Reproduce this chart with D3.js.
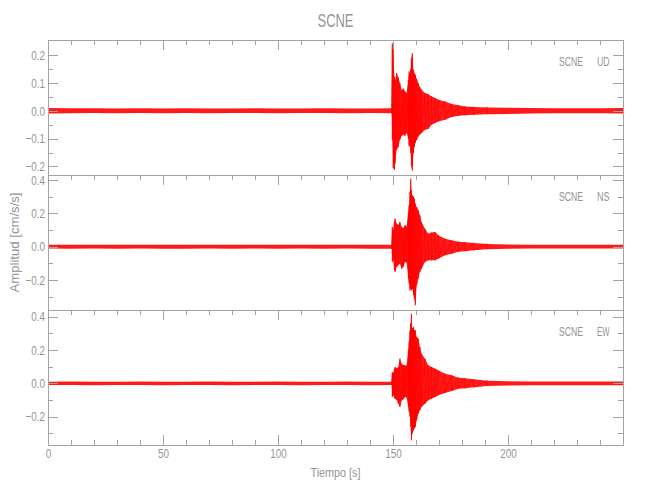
<!DOCTYPE html>
<html>
<head>
<meta charset="utf-8">
<script src="https://cdn.jsdelivr.net/npm/d3@7"></script>
<style>
  html, body { margin: 0; padding: 0; background: #fff; }
  svg { display: block; }
  text { font-family: "Liberation Sans", Arial, sans-serif; fill: #939393; }
</style>
</head>
<body>
<svg id="chart" width="650" height="500"></svg>
<script>
// ---------------- data ----------------
const title = "SCNE";
const xLabel = "Tiempo [s]";
const yLabel = "Amplitud [cm/s/s]";
const station = "SCNE";
const components = ["UD", "NS", "EW"];

const tiempo = [0,10,20,30,40,50,60,70,80,90,100,110,120,130,140,
  149.4,149.7,150.1,150.6,150.9,151.6,152.3,153.0,153.8,154.5,
  155.2,155.9,156.7,157.0,157.4,157.7,158.0,158.4,158.9,159.3,
  159.7,160.3,161.0,161.7,162.4,163.9,165.3,166.8,168.3,169.7,
  172.6,175.5,178.4,181.3,185,191,200,210,220,230,240,250];

const udUp = [0.010,0.009,0.009,0.008,0.009,0.008,0.009,0.008,0.008,0.009,0.008,0.008,0.009,0.008,0.008,
  0.009,0.243,0.220,0.123,0.110,0.136,0.120,0.100,0.075,0.080,
  0.070,0.064,0.110,0.142,0.130,0.150,0.190,0.207,0.147,0.135,
  0.130,0.115,0.100,0.085,0.076,0.064,0.060,0.052,0.046,0.040,
  0.034,0.025,0.020,0.016,0.014,0.012,0.011,0.010,0.009,0.009,0.009,0.010];
const udDown = [-0.010,-0.009,-0.008,-0.009,-0.008,-0.009,-0.008,-0.009,-0.008,-0.008,-0.009,-0.008,-0.008,-0.009,-0.008,
  -0.009,-0.104,-0.206,-0.212,-0.190,-0.140,-0.130,-0.104,-0.090,-0.085,
  -0.090,-0.080,-0.100,-0.128,-0.120,-0.150,-0.200,-0.215,-0.152,-0.130,
  -0.116,-0.105,-0.092,-0.085,-0.080,-0.068,-0.065,-0.050,-0.044,-0.038,
  -0.032,-0.022,-0.018,-0.016,-0.014,-0.012,-0.011,-0.010,-0.009,-0.009,-0.009,-0.010];

const nsUp = [0.012,0.011,0.012,0.011,0.012,0.012,0.011,0.012,0.011,0.012,0.011,0.012,0.011,0.012,0.011,
  0.012,0.118,0.100,0.150,0.168,0.138,0.130,0.148,0.118,0.110,
  0.128,0.120,0.208,0.250,0.330,0.408,0.340,0.308,0.300,0.288,
  0.258,0.238,0.218,0.188,0.148,0.108,0.078,0.085,0.088,0.068,
  0.048,0.038,0.030,0.027,0.022,0.016,0.013,0.011,0.011,0.011,0.011,0.011];
const nsDown = [-0.011,-0.012,-0.011,-0.012,-0.011,-0.012,-0.012,-0.011,-0.012,-0.011,-0.012,-0.011,-0.012,-0.011,-0.012,
  -0.012,-0.092,-0.080,-0.140,-0.152,-0.122,-0.110,-0.102,-0.132,-0.120,
  -0.092,-0.095,-0.192,-0.220,-0.262,-0.250,-0.262,-0.252,-0.290,-0.312,
  -0.352,-0.232,-0.192,-0.152,-0.132,-0.092,-0.082,-0.082,-0.082,-0.072,
  -0.052,-0.042,-0.030,-0.027,-0.022,-0.016,-0.013,-0.011,-0.011,-0.011,-0.011,-0.011];

const ewUp = [0.010,0.011,0.010,0.010,0.011,0.010,0.010,0.011,0.010,0.010,0.011,0.010,0.010,0.011,0.010,
  0.010,0.068,0.060,0.085,0.098,0.090,0.098,0.148,0.118,0.110,
  0.108,0.105,0.198,0.250,0.318,0.360,0.418,0.330,0.338,0.320,
  0.318,0.278,0.268,0.218,0.178,0.148,0.108,0.098,0.088,0.078,
  0.058,0.048,0.034,0.030,0.024,0.016,0.013,0.011,0.011,0.011,0.011,0.011];
const ewDown = [-0.010,-0.010,-0.011,-0.010,-0.010,-0.011,-0.010,-0.010,-0.011,-0.010,-0.010,-0.011,-0.010,-0.010,-0.011,
  -0.010,-0.082,-0.070,-0.085,-0.092,-0.100,-0.122,-0.142,-0.102,-0.095,
  -0.082,-0.085,-0.142,-0.170,-0.202,-0.260,-0.342,-0.300,-0.282,-0.270,
  -0.262,-0.222,-0.182,-0.162,-0.142,-0.122,-0.102,-0.092,-0.082,-0.072,
  -0.058,-0.046,-0.032,-0.030,-0.024,-0.016,-0.013,-0.011,-0.011,-0.011,-0.011,-0.011];

const xDomain = [0, 250];
const xMajorLabels = [0, 50, 100, 150, 200];
const xMajor = [0, 50, 100, 150, 200, 250];
const xMinor = [10,20,30,40,60,70,80,90,110,120,130,140,160,170,180,190,210,220,230,240];

const yDomains = [[-0.231, 0.255], [-0.38, 0.43], [-0.37, 0.44]];
const yMajors = [[-0.2,-0.1,0,0.1,0.2], [-0.2,0,0.2,0.4], [-0.2,0,0.2,0.4]];
const yMinors = [[-0.15,-0.05,0.05,0.15], [-0.3,-0.1,0.1,0.3], [-0.3,-0.1,0.1,0.3]];
const seriesUp = [udUp, nsUp, ewUp];
const seriesDown = [udDown, nsDown, ewDown];
const eventWindow = [149, 191];

// ---------------- drawing ----------------
const svg = d3.select("#chart");
const L = 48, R = 623, panelTops = [40, 175, 310], PH = 135;
const axisColor = "#a3a3a3";
const textColor = "#939393";
const fontSize = "13px";
const x = d3.scaleLinear().domain(xDomain).range([L, R]);

function condense(sel, k) {
  sel.each(function () {
    const w = this.getComputedTextLength();
    d3.select(this).attr("textLength", w * k).attr("lengthAdjust", "spacingAndGlyphs");
  });
}
function fit(sel, w) {
  sel.attr("textLength", w).attr("lengthAdjust", "spacingAndGlyphs");
}
function styleAxis(g) {
  g.select(".domain").remove();
  g.selectAll("line").attr("stroke", axisColor).attr("shape-rendering", "crispEdges");
  g.selectAll("text").attr("fill", textColor).style("font-size", fontSize)
    .style("font-family", '"Liberation Sans", Arial, sans-serif');
}

const defs = svg.append("defs");

panelTops.forEach((top, i) => {
  const y = d3.scaleLinear().domain(yDomains[i]).range([top + PH, top]);
  const g = svg.append("g");

  defs.append("clipPath").attr("id", "clip" + i)
    .append("rect").attr("x", L).attr("y", top).attr("width", R - L).attr("height", PH);

  // waveform envelope
  const rows = tiempo.map((t, j) => ({ t, up: seriesUp[i][j], dn: seriesDown[i][j] }));
  const area = d3.area().x(d => x(d.t)).y0(d => y(d.dn)).y1(d => y(d.up));
  const wave = g.append("g").attr("clip-path", `url(#clip${i})`);
  wave.append("path").datum(rows).attr("d", area)
    .attr("fill", "#ff0000").attr("fill-opacity", 0.9);
  const zig = rows.filter(d => d.t >= eventWindow[0] && d.t <= eventWindow[1])
    .flatMap(d => [[x(d.t), y(d.up)], [x(d.t), y(d.dn)]]);
  wave.append("path").attr("d", d3.line()(zig))
    .attr("fill", "none").attr("stroke", "#ff0000").attr("stroke-width", 0.7);

  // left axis
  const la = g.append("g").attr("transform", `translate(${L},0)`)
    .call(d3.axisLeft(y).tickValues(yMajors[i]).tickSize(-10).tickSizeOuter(0).tickPadding(3)
      .tickFormat(d3.format(".1f")));
  styleAxis(la);
  condense(la.selectAll("text"), 0.76);
  const lm = g.append("g").attr("transform", `translate(${L},0)`)
    .call(d3.axisLeft(y).tickValues(yMinors[i]).tickSize(-5).tickSizeOuter(0).tickFormat(""));
  styleAxis(lm);
  // right axis
  const ra = g.append("g").attr("transform", `translate(${R},0)`)
    .call(d3.axisRight(y).tickValues(yMajors[i]).tickSize(-10).tickSizeOuter(0).tickFormat(""));
  styleAxis(ra);
  const rm = g.append("g").attr("transform", `translate(${R},0)`)
    .call(d3.axisRight(y).tickValues(yMinors[i]).tickSize(-5).tickSizeOuter(0).tickFormat(""));
  styleAxis(rm);
  // top ticks
  const ta = g.append("g").attr("transform", `translate(0,${top})`)
    .call(d3.axisTop(x).tickValues(xMajor).tickSize(-10).tickSizeOuter(0).tickFormat(""));
  styleAxis(ta);
  const tm = g.append("g").attr("transform", `translate(0,${top})`)
    .call(d3.axisTop(x).tickValues(xMinor).tickSize(-5).tickSizeOuter(0).tickFormat(""));
  styleAxis(tm);

  if (i === panelTops.length - 1) {
    const ba = g.append("g").attr("transform", `translate(0,${top + PH})`)
      .call(d3.axisBottom(x).tickValues(xMajorLabels).tickSize(-10).tickSizeOuter(0).tickPadding(4)
        .tickFormat(d3.format("d")));
    styleAxis(ba);
    condense(ba.selectAll("text"), 0.76);
    const bm = g.append("g").attr("transform", `translate(0,${top + PH})`)
      .call(d3.axisBottom(x).tickValues(xMinor).tickSize(-5).tickSizeOuter(0).tickFormat(""));
    styleAxis(bm);
  }

  // frame
  g.append("rect").attr("x", L + 0.5).attr("y", top + 0.5).attr("width", R - L).attr("height", PH)
    .attr("fill", "none").attr("stroke", axisColor).attr("shape-rendering", "crispEdges");

  // station / component label
  const ly = top + 26;
  const t1 = g.append("text").attr("x", 559).attr("y", ly).style("font-size", fontSize).text(station);
  fit(t1, 24);
  const t2 = g.append("text").attr("x", 597).attr("y", ly).style("font-size", fontSize).text(components[i]);
  fit(t2, 12.5);
});

// title
const tt = svg.append("text").attr("x", (L + R) / 2).attr("y", 27).attr("text-anchor", "middle")
  .style("font-size", "19px").text(title);
fit(tt, 36);

// x label
const xl = svg.append("text").attr("x", (L + R) / 2).attr("y", 477).attr("text-anchor", "middle")
  .style("font-size", fontSize).text(xLabel);
fit(xl, 50);

// y label
const yl = svg.append("text").attr("transform", `translate(19,${(40 + 445) / 2}) rotate(-90)`)
  .attr("text-anchor", "middle").style("font-size", fontSize).text(yLabel);
fit(yl, 100);
</script>
</body>
</html>
